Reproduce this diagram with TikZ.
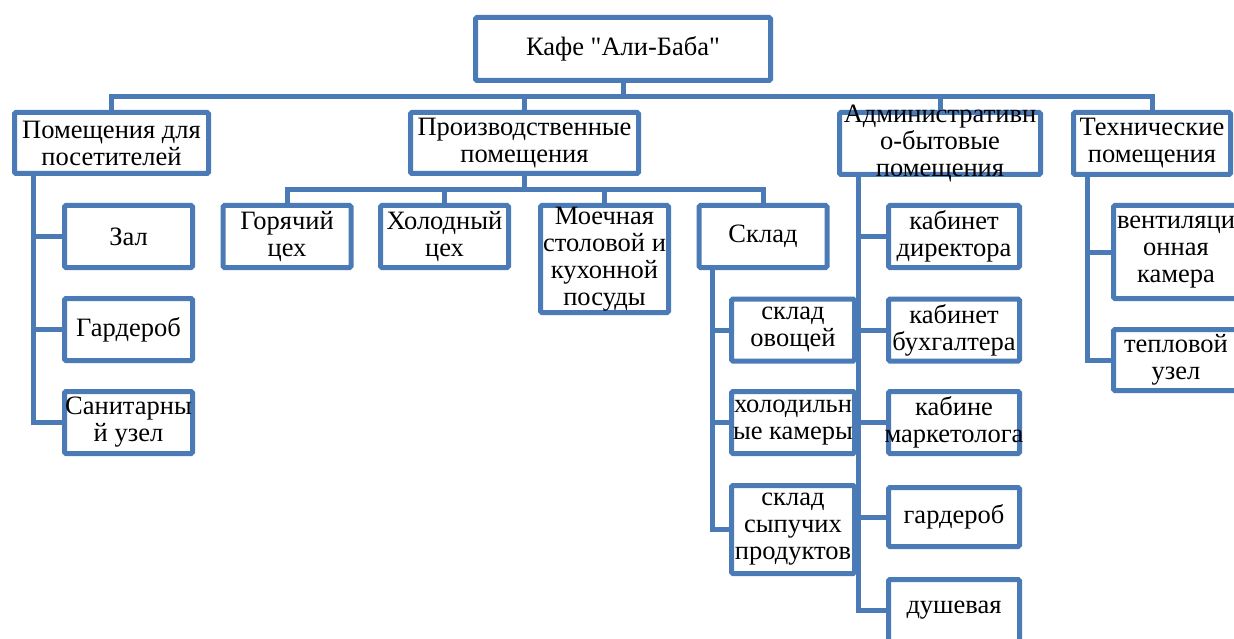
\documentclass[tikz,border=0pt]{standalone}
\usepackage{fontspec}
\newfontfamily\boxfont{Liberation Serif}
\usetikzlibrary{positioning}
\definecolor{roomblue}{HTML}{4A7BB7}
\tikzset{
  % box styles
  % coordinates are pixels of the original scheme, y downwards
  room/.style={rectangle,draw=roomblue,line width=5pt,fill=white,rounded corners=1.5pt,
    align=center,inner sep=0pt,font=\boxfont\fontsize{26.5}{27}\selectfont},
  cell/.style={room,minimum width=128pt,minimum height=62pt},
  % text that is wider or taller than its box
  roomtext/.style={inner sep=0pt,align=center,font=\boxfont\fontsize{26.5}{27}\selectfont},
  % connectors
  link/.style={draw=roomblue,line width=5pt},
}

\begin{document}
\begin{tikzpicture}[x=1pt,y=-1pt]
  \path[use as bounding box,clip] (0,0) rectangle (1234,639);
  % top level
  \node[room,minimum width=295pt,minimum height=63pt] (kafe) at (623,49) {Кафе "Али-Баба"};
  \node[room,minimum width=194pt,minimum height=61pt] (posetit) at (111.5,143) {Помещения для\\посетителей};
  \node[room,minimum width=228pt,minimum height=61pt] (proizv) at (524.5,143) {Производственные\\помещения};
  \node[room,minimum width=201pt,minimum height=62pt] (admin) at (940,143.5) {};
  \node[roomtext] (admintxt) at (admin) {Административн\\о-бытовые\\помещения};
  \node[room,minimum width=157pt,minimum height=62pt] (tekhn) at (1152,143.5) {Технические\\помещения};
  % visitors
  \node[cell] (zal) at (128.5,236.5) {Зал};
  \node[cell] (garderob) at (128.5,329.5) {Гардероб};
  \node[cell] (sanuzel) at (128.5,422.5) {Санитарны\\й узел};
  % production
  \node[cell] (goryach) at (287,236.5) {Горячий\\цех};
  \node[cell] (kholod) at (444.5,236.5) {Холодный\\цех};
  \node[cell,minimum height=107pt] (moech) at (604.5,259) {Моечная\\столовой и\\кухонной\\посуды};
  \node[cell] (sklad) at (763,236.5) {Склад};
  \node[cell,minimum width=123pt] (ovoshch) at (793,330) {склад\\овощей};
  \node[cell,minimum width=123pt] (kholodil) at (793,422.5) {холодильн\\ые камеры};
  \node[cell,minimum width=123pt,minimum height=88pt] (sypuch) at (793,529.5) {склад\\сыпучих\\продуктов};
  % administration
  \node[cell,minimum width=131pt] (direktor) at (954,236.5) {кабинет\\директора};
  \node[cell,minimum width=131pt] (bukhg) at (954,330) {кабинет\\бухгалтера};
  \node[cell,minimum width=131pt] (marketol) at (954,422.5) {};
  \node[roomtext] (marketoltxt) at (marketol) {кабине\\маркетолога};
  \node[cell,minimum width=131pt,minimum height=59pt] (gard) at (954,517) {гардероб};
  \node[cell,minimum width=131pt] (dush) at (954,610.5) {душевая};
  % technical
  \node[cell,minimum width=125pt,minimum height=93pt] (ventil) at (1176,252) {вентиляци\\онная\\камера};
  \node[cell,minimum width=125pt,minimum height=61pt] (teplo) at (1176,360) {тепловой\\узел};

  % buses
  \coordinate (bus) at (623,97);
  \coordinate (pbus) at (526,190);
  \draw[link] (kafe.south) -- (bus);
  \draw[link] (posetit.north) |- (bus) -| (tekhn.north);
  \draw[link] (proizv.north) -- (proizv.north |- bus);
  \draw[link] (admin.north) -- (admin.north |- bus);
  \draw[link] (proizv.south) -- (proizv.south |- pbus);
  \draw[link] (goryach.north) |- (pbus) -| (sklad.north);
  \draw[link] (kholod.north) -- (kholod.north |- pbus);
  \draw[link] (moech.north) -- (moech.north |- pbus);

  % spines
  \coordinate (sp1) at (33,176);
  \coordinate (sp2) at (712,270);
  \coordinate (sp3) at (858,177);
  \coordinate (sp4) at (1087,177);
  \draw[link] (sp1) |- (sanuzel.west);
  \draw[link] (sp1 |- zal.west) -- (zal.west);
  \draw[link] (sp1 |- garderob.west) -- (garderob.west);
  \draw[link] (sp2) |- (sypuch.west);
  \draw[link] (sp2 |- ovoshch.west) -- (ovoshch.west);
  \draw[link] (sp2 |- kholodil.west) -- (kholodil.west);
  \draw[link] (sp3) |- (dush.west);
  \draw[link] (sp3 |- direktor.west) -- (direktor.west);
  \draw[link] (sp3 |- bukhg.west) -- (bukhg.west);
  \draw[link] (sp3 |- marketol.west) -- (marketol.west);
  \draw[link] (sp3 |- gard.west) -- (gard.west);
  \draw[link] (sp4) |- (teplo.west);
  \draw[link] (sp4 |- ventil.west) -- (ventil.west);
\end{tikzpicture}
\end{document}
